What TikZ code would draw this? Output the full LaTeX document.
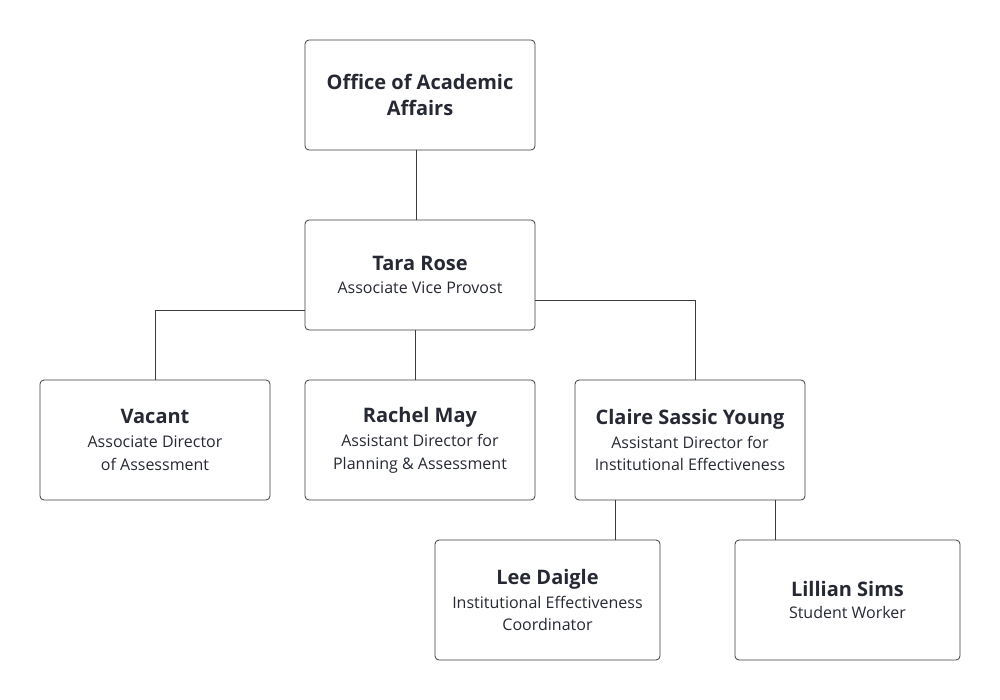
\documentclass[tikz,border=0pt]{standalone}
\usepackage{fontspec}
\setmainfont{Open Sans}
\tikzset{every picture/.style={line width=0.75pt}}
\tikzset{
  orgbox/.style={draw={rgb,255:red,60;green,60;blue,60}, rounded corners=3pt, line width=0.6pt, align=center, inner sep=0pt, font=\fontsize{12}{17}\selectfont},
  link/.style={draw={rgb,255:red,60;green,60;blue,60}, line width=0.6pt}
}
\newcommand{\nm}[1]{{\fontsize{15}{18}\selectfont\bfseries #1}}
\begin{document}
\begin{tikzpicture}[x=0.75pt,y=0.75pt,yscale=-1,xscale=1]
    \path[use as bounding box] (0,0) rectangle (1000,700);
    \color[rgb]{0.15,0.16,0.2}
    
    % boxes
    \node[orgbox, minimum width=172.5pt, minimum height=82.5pt, font=\fontsize{15}{20}\selectfont] (office) at (420,95) {\nm{Office of Academic}\\\nm{Affairs}};
    \node[orgbox, minimum width=172.5pt, minimum height=82.5pt] (tara) at (420,275) {\nm{Tara Rose}\\Associate Vice Provost};
    \node[orgbox, minimum width=172.5pt, minimum height=90pt] (vacant) at (155,440) {\nm{Vacant}\\[1pt]Associate Director\\of Assessment};
    \node[orgbox, minimum width=172.5pt, minimum height=90pt] (rachel) at (420,440) {\nm{Rachel May}\\[1pt]Assistant Director for\\Planning \& Assessment};
    \node[orgbox, minimum width=172.5pt, minimum height=90pt] (claire) at (690,440) {\nm{Claire Sassic Young}\\[1pt]Assistant Director for\\Institutional Effectiveness};
    \node[orgbox, minimum width=168.75pt, minimum height=90pt] (lee) at (547.5,600) {\nm{Lee Daigle}\\[1pt]Institutional Effectiveness\\Coordinator};
    \node[orgbox, minimum width=168.75pt, minimum height=90pt] (lillian) at (847.5,600) {\nm{Lillian Sims}\\Student Worker};
    
    % connectors
    \coordinate (tvl) at (155,310);
    \coordinate (tcr) at (695,300);
    \draw[link] (office.south -| 416,0) -- (tara.north -| 416,0);
    \draw[link] (tara.west |- tvl) -- (tvl) -- (vacant.north);
    \draw[link] (tara.south -| 415,0) -- (rachel.north -| 415,0);
    \draw[link] (tara.east |- tcr) -- (tcr) -- (claire.north -| tcr);
    \draw[link] (claire.south -| 615,0) -- (lee.north -| 615,0);
    \draw[link] (claire.south -| 775,0) -- (lillian.north -| 775,0);
\end{tikzpicture}
\end{document}
